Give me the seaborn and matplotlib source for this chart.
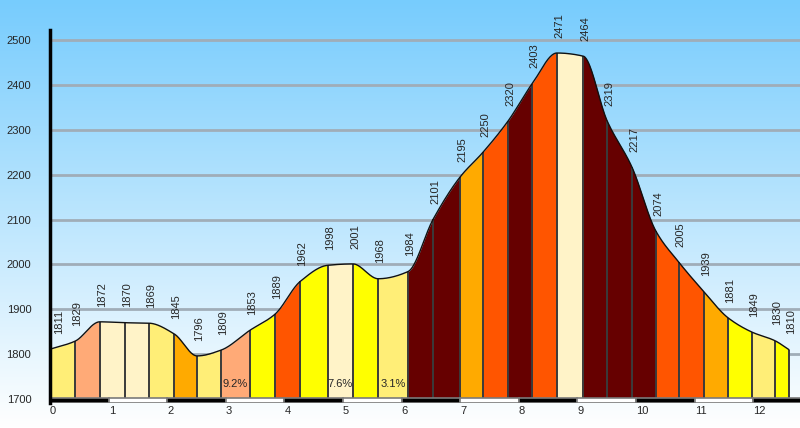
import numpy as np
import pandas as pd
import seaborn as sns
import matplotlib.pyplot as plt

# boundary positions (km) and elevations (m)
dist_km = [0, 0.43, 0.85, 1.28, 1.69, 2.12, 2.51, 2.92, 3.41, 3.84, 4.27, 4.74,
           5.17, 5.60, 6.11, 6.54, 7.00, 7.39, 7.82, 8.23, 8.65, 9.10, 9.51,
           9.93, 10.34, 10.73, 11.16, 11.57, 11.98, 12.37, 12.61]
elev_m = [1811, 1829, 1872, 1870, 1869, 1845, 1796, 1809, 1853, 1889, 1962, 1998,
          2001, 1968, 1984, 2101, 2195, 2250, 2320, 2403, 2471, 2464, 2319,
          2217, 2074, 2005, 1939, 1881, 1849, 1830, 1810]

# segment fill colours
LY, SA, CR, OR, YE, RD, MR = "#FFEE77", "#FFAA77", "#FFF3C8", "#FFAA00", "#FFFF00", "#FF5500", "#660000"
seg_colors = [LY, SA, CR, CR, LY, OR, LY, SA, YE, RD, YE, CR, YE, LY,
              MR, MR, OR, RD, MR, RD, CR, MR, MR, MR, RD, RD, OR, YE, LY, YE]

# gradient labels shown on some segments
pct_segments = [7, 11, 13]
pct_labels = ["9.2%", "7.6%", "3.1%"]

y_ticks = [1700, 1800, 1900, 2000, 2100, 2200, 2300, 2400, 2500]
km_ticks = list(range(0, 13))

df = pd.DataFrame({"km": dist_km, "elev": elev_m})


def pchip(x, y, xs):
    x = np.asarray(x, float)
    y = np.asarray(y, float)
    h = np.diff(x)
    d = np.diff(y) / h
    m = np.zeros_like(y)
    for k in range(1, len(x) - 1):
        if d[k - 1] * d[k] > 0:
            w1 = 2 * h[k] + h[k - 1]
            w2 = h[k] + 2 * h[k - 1]
            m[k] = (w1 + w2) / (w1 / d[k - 1] + w2 / d[k])
    m[0], m[-1] = d[0], d[-1]
    idx = np.clip(np.searchsorted(x, xs) - 1, 0, len(x) - 2)
    t = (xs - x[idx]) / h[idx]
    h00 = 2 * t**3 - 3 * t**2 + 1
    h10 = t**3 - 2 * t**2 + t
    h01 = -2 * t**3 + 3 * t**2
    h11 = t**3 - t**2
    return h00 * y[idx] + h10 * h[idx] * m[idx] + h01 * y[idx + 1] + h11 * h[idx] * m[idx + 1]


sns.set_style("white")
plt.rcParams["font.family"] = ["Liberation Sans", "DejaVu Sans"]
FS = 8

fig = plt.figure(figsize=(8, 4.28), dpi=100)

# sky gradient background
bg = fig.add_axes([0, 0, 1, 1])
top = np.array([0x77, 0xCC, 0xFD]) / 255
grad = np.linspace(0, 1, 256)[:, None]
img = top[None, None, :] * (1 - grad[..., None]) + np.ones(3)[None, None, :] * grad[..., None]
img = np.repeat(img, 2, axis=1)
bg.imshow(img, aspect="auto", extent=[0, 1, 0, 1])
bg.axis("off")
bg.set_zorder(0)

ax = fig.add_axes([50 / 800, 25 / 428, 750 / 800, 373 / 428])
ax.set_zorder(1)
ax.patch.set_alpha(0)

ymin, ymax = 1691.1, 2522.3
ax.set_xlim(0, 750 / 58.6)
ax.set_ylim(ymin, ymax)

for yt in y_ticks[1:]:
    ax.axhline(yt, color="#A0ADB8", lw=2, zorder=1)

# profile segments
for i in range(len(dist_km) - 1):
    xs = np.linspace(dist_km[i], dist_km[i + 1], 40)
    ys = pchip(dist_km, elev_m, xs)
    ax.fill_between(xs, 1700, ys, color=seg_colors[i], lw=0, zorder=2)

xs_all = np.linspace(dist_km[0], dist_km[-1], 1200)
curve = pd.DataFrame({"km": xs_all, "elev": pchip(dist_km, elev_m, xs_all)})
sns.lineplot(data=curve, x="km", y="elev", color="#111111", lw=1.0, ax=ax,
             estimator=None, sort=False, zorder=4)
ax.vlines(df["km"][1:], 1700, df["elev"][1:], color="#3a3a3a", lw=1.4, zorder=3)

# elevation labels
for i, (k, e) in enumerate(zip(dist_km, elev_m)):
    dx = 6.5 if i == 0 else 1.5
    ax.annotate(str(e), (k, e), xytext=(dx, 11), textcoords="offset points",
                rotation=90, ha="center", va="bottom", fontsize=FS, zorder=5)

for s, lab in zip(pct_segments, pct_labels):
    xc = (dist_km[s] + dist_km[s + 1]) / 2
    ax.text(xc, 1733, lab, ha="center", va="center", fontsize=FS, zorder=5)

# km scale bar
bar_cols = ["black" if k % 2 == 0 else "white" for k in km_ticks]
ax.bar(np.array(km_ticks) + 0.5, 1702 - ymin, bottom=ymin + 0.5, width=1,
       color=bar_cols, edgecolor="#7a7a7a", lw=1.2, zorder=6, clip_on=True)

for s in ["top", "right", "bottom"]:
    ax.spines[s].set_visible(False)
ax.spines["left"].set_color("black")
ax.spines["left"].set_linewidth(2.5)
ax.spines["left"].set_zorder(7)

ax.set_yticks(y_ticks)
ax.set_xticks(km_ticks)
ax.tick_params(axis="y", length=4, width=2, color="#A0ADB8", pad=9.5, labelsize=FS)
ax.tick_params(axis="x", length=0, pad=2, labelsize=FS)
for lbl in ax.get_xticklabels():
    lbl.set_horizontalalignment("left")
ax.set_xlabel("")
ax.set_ylabel("")

fig.savefig("out.png", dpi=100)
